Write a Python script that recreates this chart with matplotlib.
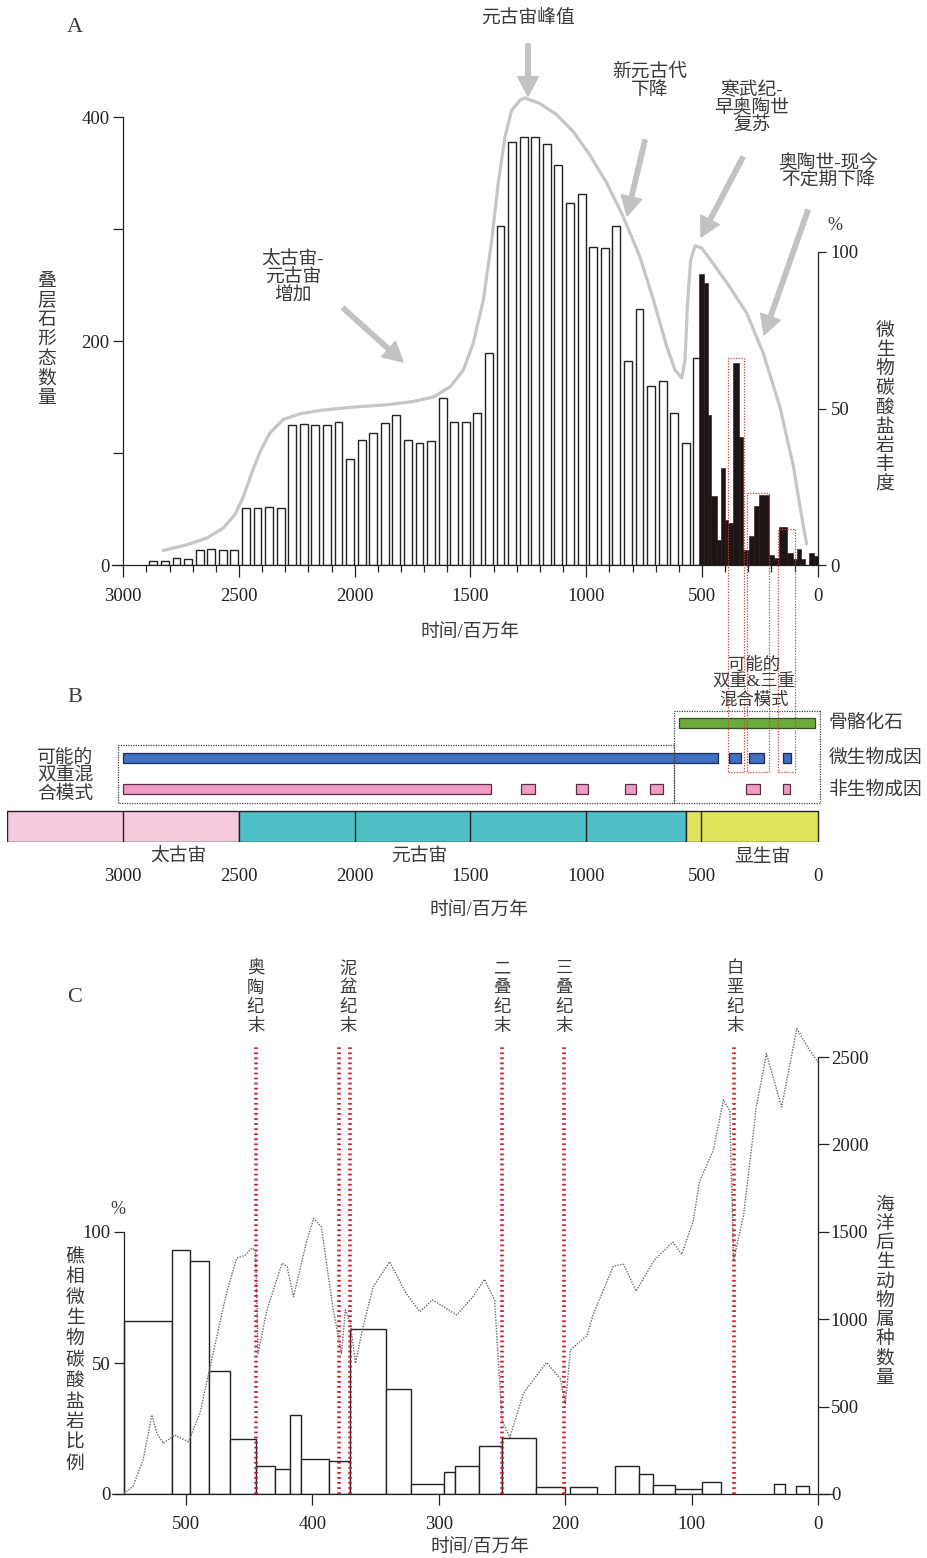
import matplotlib
matplotlib.use('Agg')
import matplotlib.pyplot as plt
from matplotlib.patches import Rectangle
import numpy as np

plt.rcParams['font.family'] = ['Liberation Serif', 'Noto Sans CJK SC']
plt.rcParams['axes.unicode_minus'] = False

W, H = 927, 1558
TXT = '#3a3a3a'
AX = '#222222'
CJK = 13.5

# ---------------- panel A : stromatolite forms + microbial carbonates ----------------
strom_age = np.arange(2870, 500, -50)          # bin centres (Ma)
strom_count = [4, 4, 6, 5, 13, 14, 13, 13,
               51, 51, 52, 51,
               125, 126, 125, 125, 128,
               95, 112, 118, 127, 134, 112, 109, 111,
               149, 128, 128, 136,
               189, 303, 378, 382, 382, 376, 357, 323, 331, 284, 283, 303,
               182, 229, 160, 164, 136, 109, 185]

micro_old = [512, 493, 476, 462, 436, 418, 401, 386, 367, 338, 321, 295, 275, 255, 211, 189, 166, 131, 108, 91, 73, 39, 17]
micro_young = [493, 476, 462, 436, 418, 401, 386, 367, 338, 321, 295, 275, 255, 211, 189, 166, 131, 108, 91, 73, 53, 17, 0]
micro_pct = [93, 90, 48, 22, 8, 31, 14.5, 13.5, 64.5, 41, 4.8, 9.3, 19, 22.4, 3.2, 2.1, 12, 3.7, 2, 5, 2, 3.7, 2.9]

env_age = [2827, 2726, 2639, 2568, 2517, 2481, 2445, 2409, 2366, 2308,
           2236, 2150, 2006, 1862, 1747, 1660, 1588, 1531, 1488, 1444,
           1408, 1380, 1351, 1322, 1286, 1265, 1200, 1127, 1056, 984,
           911, 840, 768, 710, 652, 616, 587, 573, 563, 549,
           530, 501, 451, 379, 307, 235, 163, 105, 69, 48]
env_val = [13, 18, 24, 33, 45, 61, 82, 101, 118, 130,
           135, 138, 141, 143, 146, 150, 159, 174, 198, 237,
           290, 341, 382, 406, 415, 417, 412, 402, 387, 366,
           341, 311, 275, 237, 195, 174, 167, 183, 231, 272,
           285, 283, 269, 248, 225, 189, 141, 88, 43, 19]

# red boxes : possible double & triple mixed mode
mix_old = [386, 304, 173]
mix_young = [318, 209, 98]
mix_top = [66, 23, 11.5]

# ---------------- panel B : time bars ----------------
eon_names = ['太古宙', '元古宙', '显生宙']
eon_old = [3500, 2500, 570]
eon_young = [2500, 570, 0]
eon_label_at = [2760, 1720, 240]
eon_colors = ['#f6c9de', '#4fbfc6', '#dfe35c']
era_bounds = [3000, 2000, 1500, 1000, 505]

skel_old, skel_young = [600], [10]
mic_old = [3000, 381, 297, 151]
mic_young = [430, 330, 232, 117]
abio_old = [3000, 1282, 1044, 832, 726, 310, 152]
abio_young = [1410, 1223, 994, 784, 670, 250, 118]

# ---------------- panel C : reef microbial carbonates vs marine genera ----------------
reef_old = [549, 511, 497, 482, 465, 445, 430, 418, 409, 387, 370, 342, 322, 296, 287, 268, 250, 223, 196, 161, 142, 131, 113, 92, 35, 18]
reef_young = [511, 497, 482, 465, 445, 430, 418, 409, 387, 370, 342, 322, 296, 287, 268, 250, 223, 200, 175, 142, 131, 113, 92, 77, 26, 7]
reef_pct = [66, 93, 89, 47, 21, 10.5, 9.5, 30, 13.5, 12.5, 63, 40, 4, 8.5, 10.5, 18.5, 21.5, 2.8, 2.7, 10.5, 7.5, 3.3, 2, 4.5, 3.8, 2.9]

gen_age = [549, 542, 534, 527, 523, 518, 509, 498, 489, 478,
           468, 460, 453, 448, 445, 443, 436, 424, 420, 415,
           405, 399, 393, 384, 380, 377, 374, 370, 366, 360,
           352, 339, 326, 315, 305, 286, 273, 264, 256, 250,
           244, 233, 215, 204, 200, 196, 183, 178, 162, 154,
           144, 130, 115, 108, 99, 94, 83, 75, 70, 67,
           59, 49, 41, 29, 17, 7, 0]
gen_count = [4, 42, 194, 452, 347, 290, 337, 299, 462, 824,
             1148, 1348, 1367, 1406, 1396, 805, 1053, 1320, 1300, 1129,
             1434, 1577, 1529, 1071, 919, 805, 1053, 976, 748, 957,
             1186, 1329, 1148, 1043, 1110, 1024, 1129, 1228, 1110, 420,
             323, 578, 752, 660, 517, 824, 906, 1028, 1304, 1314,
             1161, 1335, 1441, 1371, 1559, 1785, 1968, 2254, 2193, 1335,
             1600, 2214, 2519, 2214, 2662, 2540, 2468]

events = [445, 379, 370, 250, 201, 67]
event_names = ['奥陶纪末', '泥盆纪末', '二叠纪末', '三叠纪末', '白垩纪末']
event_label_at = [445, 372, 250, 201, 66]


fig = plt.figure(figsize=(W / 100, H / 100), dpi=100)


def box(x0, y0, x1, y1):
    return [x0 / W, 1 - y1 / H, (x1 - x0) / W, (y1 - y0) / H]


def put(x, y, s, **kw):
    kw.setdefault('ha', 'center')
    kw.setdefault('va', 'center')
    kw.setdefault('fontsize', CJK)
    kw.setdefault('color', TXT)
    fig.text(x / W, 1 - y / H, s, **kw)


def stack(s):
    return '\n'.join(s)


def arrow(ax, x0, y0, x1, y1):
    ax.annotate('', xy=(x1, H - y1), xytext=(x0, H - y0),
                xycoords='figure pixels', textcoords='figure pixels',
                annotation_clip=False,
                arrowprops=dict(color='#c2c2c2', width=3.2, headwidth=15,
                                headlength=14, shrink=0))


def ma_at(px):
    # panels A and B share one time scale (0 Ma at 817.7 px)
    return (817.7 - px) / 0.2315


# ================= A =================
axA = fig.add_axes(box(112, 90, 818, 565))
axA.set_xlim(ma_at(112), ma_at(818))
axA.set_ylim(0, (565 - 90) / 1.12)
axA.bar(strom_age, strom_count, width=34, color='white', edgecolor=AX, linewidth=1.0, zorder=2)
axA.plot(env_age, env_val, color='#c6c6c6', lw=2.3, solid_capstyle='round',
         solid_joinstyle='round', zorder=3)

for s in ['top', 'right']:
    axA.spines[s].set_visible(False)
axA.spines['left'].set_position(('data', 3000))
axA.spines['left'].set_bounds(0, 400)
for s in ['left', 'bottom']:
    axA.spines[s].set_color(AX)
    axA.spines[s].set_linewidth(0.9)
axA.set_xticks([3000, 2500, 2000, 1500, 1000, 500, 0])
axA.set_xticks(np.arange(0, 3001, 100), minor=True)
axA.set_yticks([0, 100, 200, 300, 400])
axA.set_yticklabels(['0', '', '200', '', '400'])
axA.tick_params(axis='x', which='major', length=8.5, width=0.9, color=AX, pad=8, labelsize=13.5, labelcolor=AX)
axA.tick_params(axis='x', which='minor', length=5, width=0.9, color=AX)
axA.tick_params(axis='y', length=7, width=0.9, color=AX, pad=3, labelsize=13.5, labelcolor=AX)

axR = axA.twinx()
axR.set_ylim(0, (565 - 90) / 3.13)
axR.bar(micro_young, micro_pct, width=np.array(micro_old) - np.array(micro_young), align='edge',
        color='#1e1414', edgecolor='#1e1414', linewidth=0.4, zorder=2)
for s in ['top', 'left', 'bottom']:
    axR.spines[s].set_visible(False)
axR.spines['right'].set_bounds(0, 100)
axR.spines['right'].set_color(AX)
axR.spines['right'].set_linewidth(0.9)
axR.set_yticks([0, 50, 100])
axR.tick_params(axis='y', length=6, width=0.9, color=AX, pad=3, labelsize=13.5, labelcolor=AX)

put(75, 27, 'A', fontsize=16)
put(47, 340, stack('叠层石形态数量'), linespacing=1.18)
put(885, 408, stack('微生物碳酸盐岩丰度'), linespacing=1.16)
put(835, 225, '%', fontsize=13)
put(470, 632, '时间/百万年')

put(528, 18, '元古宙峰值')
put(650, 81, '新元古代\n下降', linespacing=1.06)
put(752, 108, '寒武纪-\n早奥陶世\n复苏', linespacing=1.06)
put(828, 172, '奥陶世-现今\n不定期下降', linespacing=1.06)
put(293, 278, '太古宙-\n元古宙\n增加', linespacing=1.06)
arrow(axA, 528, 44, 528, 96)
arrow(axA, 645, 140, 627, 216)
arrow(axA, 743, 157, 701, 237)
arrow(axA, 808, 210, 764, 335)
arrow(axA, 343, 308, 403, 362)

# ================= B =================
axB = fig.add_axes(box(7, 700, 822, 842))
axB.set_xlim(ma_at(7), ma_at(822))
axB.set_ylim(842, 700)
for s in axB.spines.values():
    s.set_visible(False)
axB.set_yticks([])
axB.set_xticks([3000, 2500, 2000, 1500, 1000, 500, 0])
axB.tick_params(axis='x', length=0, pad=19, labelsize=13.5, labelcolor=AX)
axB.patch.set_alpha(0)

axB.barh(826.5, np.array(eon_old) - np.array(eon_young), left=eon_young, height=31,
         color=eon_colors, edgecolor=AX, linewidth=1.0)
axB.vlines(era_bounds, 811, 842, color=AX, lw=1.0)
for name, x in zip(eon_names, eon_label_at):
    axB.text(x, 857, name, ha='center', va='center', fontsize=CJK, color=TXT, clip_on=False)

axB.barh(723, np.array(skel_old) - np.array(skel_young), left=skel_young, height=10,
         color='#6aab3c', edgecolor='#2f4f1c', linewidth=0.9)
axB.barh(758, np.array(mic_old) - np.array(mic_young), left=mic_young, height=10,
         color='#3f6ec2', edgecolor='#1c2c55', linewidth=0.9)
axB.barh(789, np.array(abio_old) - np.array(abio_young), left=abio_young, height=10,
         color='#f09ac6', edgecolor='#5a3040', linewidth=0.9)

# dotted groups
axB.add_patch(Rectangle((ma_at(674.5), 745), ma_at(118) - ma_at(674.5), 58, fill=False,
                        ec='#444', lw=0.9, ls=(0, (1, 1)), clip_on=False))
axB.add_patch(Rectangle((ma_at(820), 711), ma_at(674.5) - ma_at(820), 92, fill=False,
                        ec='#444', lw=0.9, ls=(0, (1, 1)), clip_on=False))

put(75, 697, 'B', fontsize=16)
put(65, 776, '可能的\n双重混\n合模式', linespacing=1.05)
put(754, 683, '可能的\n双重&三重\n混合模式', fontsize=12.5, linespacing=1.08)
put(829, 723, '骨骼化石', ha='left')
put(829, 758, '微生物成因', ha='left')
put(829, 790, '非生物成因', ha='left')
put(479, 910, '时间/百万年')

# red mixed-mode boxes linking A and B
inv = fig.transFigure.inverted()
for o, y_, t in zip(mix_old, mix_young, mix_top):
    x0, y1 = inv.transform(axR.transData.transform((o, t)))
    x1, _ = inv.transform(axR.transData.transform((y_, t)))
    _, y0 = inv.transform(axB.transData.transform((o, 772)))
    fig.add_artist(Rectangle((x0, y0), x1 - x0, y1 - y0, transform=fig.transFigure,
                             fill=False, ec='#d63a3a', lw=0.9, ls=(0, (1, 1.2))))

# ================= C =================
cx = lambda px: (818.3 - px) / 1.2646
axC = fig.add_axes(box(112, 1020, 832, 1494))
axC.set_xlim(cx(112), cx(832))
axC.set_ylim(0, (1494 - 1020) / 2.62)
axC.bar(reef_young, reef_pct, width=np.array(reef_old) - np.array(reef_young), align='edge',
        color='white', edgecolor=AX, linewidth=1.0)
for s in ['top', 'right']:
    axC.spines[s].set_visible(False)
axC.spines['left'].set_position(('data', 549))
axC.spines['left'].set_bounds(0, 100)
for s in ['left', 'bottom']:
    axC.spines[s].set_color(AX)
    axC.spines[s].set_linewidth(0.9)
axC.set_xticks([500, 400, 300, 200, 100, 0])
axC.set_yticks([0, 50, 100])
axC.tick_params(axis='x', length=8, width=0.9, color=AX, pad=8, labelsize=13.5, labelcolor=AX)
axC.tick_params(axis='y', length=7, width=0.9, color=AX, pad=3, labelsize=13.5, labelcolor=AX)

axCR = axC.twinx()
axCR.set_ylim(0, (1494 - 1020) / 0.1748)
axCR.plot(gen_age, gen_count, color='#6a6a6a', lw=1.0, ls=(0, (1, 1)))
axCR.vlines(events, 0, (1494 - 1047) / 0.1748, color='#cc1f2f', lw=2.6, linestyles=(0, (0.5, 0.9)))
for s in ['top', 'left', 'bottom']:
    axCR.spines[s].set_visible(False)
axCR.spines['right'].set_position(('data', 0))
axCR.spines['right'].set_bounds(0, 2500)
axCR.spines['right'].set_color(AX)
axCR.spines['right'].set_linewidth(0.9)
axCR.set_yticks([0, 500, 1000, 1500, 2000, 2500])
axCR.tick_params(axis='y', length=8, width=0.9, color=AX, pad=1, labelsize=13.5, labelcolor=AX)
for name, x in zip(event_names, event_label_at):
    axCR.text(x, (1494 - 998) / 0.1748, stack(name), ha='center', va='center', fontsize=12.5,
              color=TXT, linespacing=1.25, clip_on=False)

put(75, 997, 'C', fontsize=16)
put(118, 1210, '%', fontsize=13)
put(75, 1360, stack('礁相微生物碳酸盐岩比例'), linespacing=1.28)
put(885, 1292, stack('海洋后生动物属种数量'), linespacing=1.16)
put(480, 1547, '时间/百万年')

fig.savefig('out.png', dpi=100)
